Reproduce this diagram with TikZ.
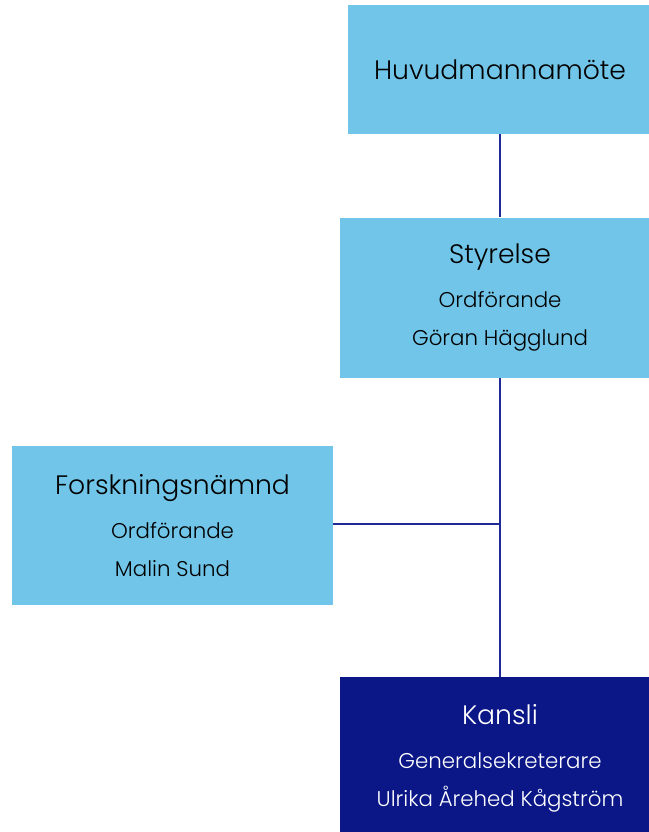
\documentclass[tikz,border=0pt]{standalone}
\usepackage{fontspec}
\setmainfont{Poppins}[UprightFont=* Light]
\definecolor{boxblue}{HTML}{71C5E8}
\definecolor{navy}{HTML}{0B1787}
\definecolor{linenavy}{HTML}{1F2A96}
\def\boxtitle{\fontsize{20}{24}\selectfont}
\def\boxsub{\fontsize{16}{28.5}\selectfont}
\tikzset{
  orgbox/.style={fill=boxblue,draw=none,inner sep=0pt,align=center,text=black,font=\boxsub},
  darkbox/.style={orgbox,fill=navy,text=white},
  orgline/.style={draw=linenavy,line width=1.5pt},
}

\begin{document}
\begin{tikzpicture}[x=0.75pt,y=0.75pt,yscale=-1,xscale=1]
	\useasboundingbox (0,0) rectangle (649,832);
	\node [orgbox, minimum width=304*0.75pt, minimum height=129*0.75pt] (huvud) at (500,69.5) {\boxtitle Huvudmannamöte};
	\node [orgbox, minimum width=320*0.75pt, minimum height=160*0.75pt] (styrelse) at (500,297.5) {{\boxtitle Styrelse}\\[4.5pt] Ordförande\\ Göran Hägglund};
	\node [orgbox, minimum width=321*0.75pt, minimum height=159*0.75pt] (forskning) at (172.5,525.5) {{\boxtitle Forskningsnämnd}\\[4.5pt] Ordförande\\ Malin Sund};
	\node [darkbox, minimum width=320*0.75pt, minimum height=163*0.75pt] (kansli) at (500,758.5) {{\boxtitle Kansli}\\[4.5pt] Generalsekreterare\\ Ulrika Årehed Kågström};
	\coordinate (spine) at (500,524);
	\draw [orgline] (huvud.south) -- (styrelse.north);
	\draw [orgline] (styrelse.south) -- (kansli.north);
	\draw [orgline] (forskning.east |- spine) -- (spine);
\end{tikzpicture}
\end{document}
